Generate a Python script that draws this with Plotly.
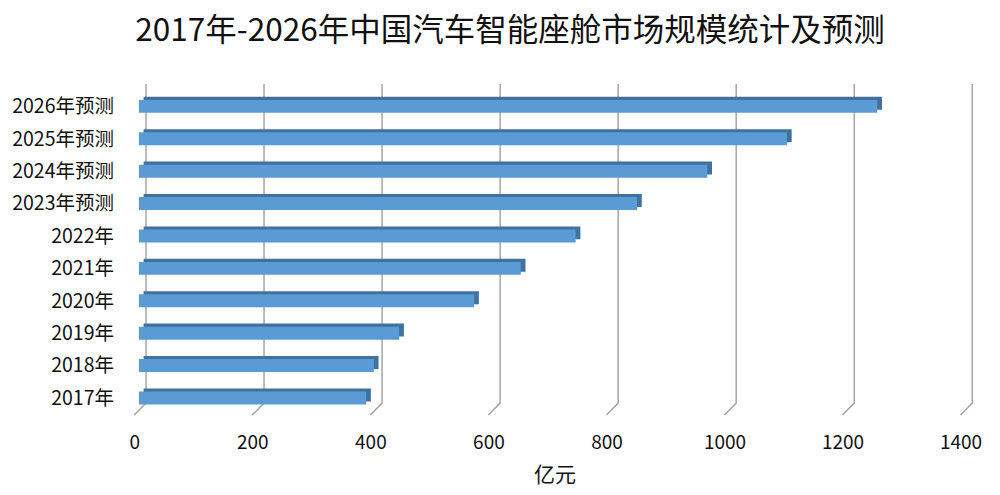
import plotly.graph_objects as go

# 2017-2026 China smart cockpit market size (100M CNY)
years = ["2017年", "2018年", "2019年", "2020年", "2021年", "2022年",
         "2023年预测", "2024年预测", "2025年预测", "2026年预测"]
market_size = [385, 398, 441, 568, 647, 740, 844, 963, 1098, 1251]
x_ticks = [0, 200, 400, 600, 800, 1000, 1200, 1400]

FONT = "Noto Sans CJK SC"
FRONT_BLUE = "#5B9BD5"
DARK_BLUE = "#41719C"
GRID = "#A6A6A6"

# fake 3D: depth shift in data units (x) and category units (y)
depth_x = 8
depth_y = 0.095
bar_w = 0.40

fig = go.Figure()

# top / side faces (darker bar pushed back & up)
fig.add_trace(go.Bar(
    y=years, x=market_size, base=depth_x, orientation="h",
    width=bar_w, offset=-bar_w / 2 + depth_y,
    marker=dict(color=DARK_BLUE, line=dict(width=0)),
    hoverinfo="skip", showlegend=False,
))
# front face
fig.add_trace(go.Bar(
    y=years, x=market_size, orientation="h",
    width=bar_w, offset=-bar_w / 2,
    marker=dict(color=FRONT_BLUE, line=dict(width=0)),
    showlegend=False,
))

# back-wall gridlines bending onto the floor
shapes = []
for t in x_ticks:
    shapes.append(dict(
        type="path", xref="x", yref="paper", layer="below",
        path=f"M {t + 12},1 L {t + 12},0.036 L {t - 8},0",
        line=dict(color=GRID, width=1.5),
    ))

fig.update_layout(
    width=1000, height=495,
    margin=dict(l=133, r=23, t=84, b=80, autoexpand=False),
    paper_bgcolor="white", plot_bgcolor="white",
    barmode="overlay",
    font=dict(family=FONT, color="#111111"),
    title=dict(
        text="2017年-2026年中国汽车智能座舱市场规模统计及预测",
        x=0.51, xanchor="center", y=0.94, yanchor="middle",
        yref="container", automargin=False,
        font=dict(size=31.5, family=FONT, color="#111111"),
    ),
    shapes=shapes,
    xaxis=dict(
        range=[-10, 1420], showgrid=False, zeroline=False, showline=False,
        tickvals=[t - 7 for t in x_ticks], ticktext=[str(t) for t in x_ticks],
        tickfont=dict(size=19), ticks="", ticklabelstandoff=14, automargin=False,
        title=dict(text="亿元", font=dict(size=21), standoff=14),
    ),
    yaxis=dict(
        type="category", categoryorder="array", categoryarray=years,
        range=[-0.525, 9.69], showgrid=False, zeroline=False, showline=False,
        ticks="", tickfont=dict(size=19.5), ticklabelstandoff=18, automargin=False,
    ),
)

# drop the browser's default 8px body margin so the figure sits at 0,0
fig.write_html("out.html", config={"displayModeBar": False},
               post_script="document.body.style.margin='0';")
